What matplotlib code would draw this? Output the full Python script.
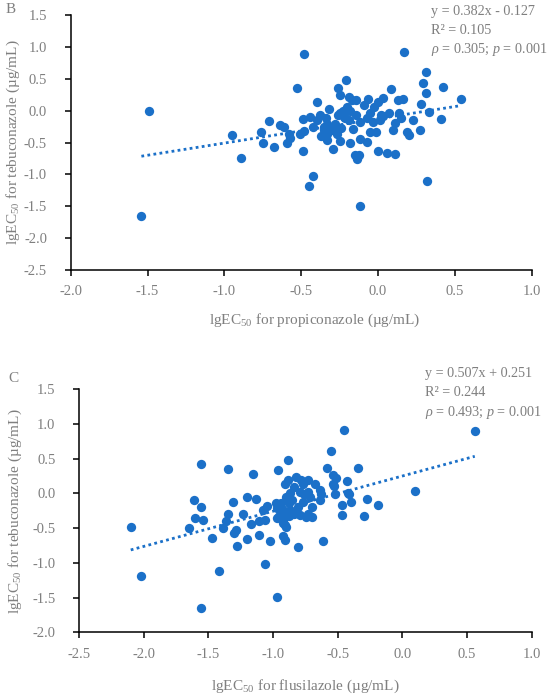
import matplotlib
matplotlib.use('Agg')
import numpy as np
import matplotlib.pyplot as plt

plt.rcParams['font.family'] = ['Liberation Serif', 'DejaVu Serif']
plt.rcParams['mathtext.fontset'] = 'custom'
plt.rcParams['mathtext.rm'] = 'Liberation Serif'
plt.rcParams['mathtext.it'] = 'Liberation Serif:italic'

# panel B: propiconazole (x) vs tebuconazole (y)
prop_x = [-1.49, -1.54, -0.95, -0.89, -0.76, -0.75, -0.71, -0.68, -0.64, -0.61,
          -0.58, -0.59, -0.57, -0.525, -0.48, -0.49, -0.49, -0.51, -0.48, -0.445,
          -0.42, -0.45, -0.40, -0.425, -0.40, -0.375, -0.37, -0.35, -0.34, -0.33,
          -0.32, -0.31, -0.33, -0.295, -0.28, -0.27, -0.26, -0.25, -0.25, -0.245,
          -0.24, -0.215, -0.21, -0.20, -0.20, -0.19, -0.19, -0.17, -0.18, -0.16,
          -0.145, -0.145, -0.15, -0.14, -0.125, -0.12, -0.115, -0.115, -0.09, -0.07,
          -0.07, -0.065, -0.055, -0.05, -0.025, -0.015, 0.00, 0.00, 0.015, 0.02,
          0.03, 0.057, 0.07, 0.085, 0.10, 0.11, 0.11, 0.13, 0.135, 0.15,
          0.16, 0.17, 0.19, 0.20, 0.225, 0.275, 0.28, 0.29, 0.31, 0.315,
          0.32, 0.33, 0.41, 0.425, 0.54,
          -0.33, -0.30, -0.26, -0.23, -0.22, -0.18, -0.03, 0.03, -0.35, -0.28]
prop_y = [0.00, -1.65, -0.38, -0.75, -0.33, -0.51, -0.16, -0.57, -0.22, -0.25,
          -0.36, -0.50, -0.43, 0.355, 0.89, -0.13, -0.63, -0.36, -0.32, -0.095,
          -1.02, -1.18, 0.14, -0.25, -0.15, -0.07, -0.40, -0.25, -0.12, -0.36,
          0.03, -0.31, -0.46, -0.60, -0.21, -0.36, 0.35, 0.245, -0.48, -0.04,
          -0.28, -0.12, 0.48, 0.06, 0.01, -0.15, 0.22, 0.17, -0.51, -0.29,
          -0.07, 0.17, -0.69, -0.76, -0.69, -0.45, -1.49, -0.18, 0.09, -0.49,
          -0.12, 0.18, -0.03, -0.33, 0.06, -0.33, -0.64, 0.14, -0.15, -0.07,
          0.20, -0.66, -0.04, 0.34, -0.30, -0.19, -0.68, 0.17, -0.04, -0.12,
          0.18, 0.925, -0.33, -0.38, -0.15, -0.30, 0.10, 0.43, 0.61, 0.28,
          -1.11, -0.02, -0.13, 0.365, 0.19,
          -0.21, -0.30, -0.07, 0.00, -0.10, 0.00, -0.18, -0.09, -0.30, -0.30]

# panel C: flusilazole (x) vs tebuconazole (y)
flus_x = [-2.10, -2.02, -1.65, -1.61, -1.60, -1.56, -1.555, -1.54, -1.56, -1.47,
          -1.42, -1.39, -1.36, -1.35, -1.35, -1.31, -1.305, -1.29, -1.28, -1.23,
          -1.20, -1.20, -1.17, -1.155, -1.13, -1.11, -1.11, -1.08, -1.065, -1.06,
          -1.045, -1.02, -0.98, -0.97, -0.96, -0.97, -0.94, -0.93, -0.92, -0.92,
          -0.91, -0.905, -0.91, -0.905, -0.90, -0.885, -0.885, -0.88, -0.87, -0.865,
          -0.85, -0.84, -0.84, -0.82, -0.81, -0.805, -0.79, -0.79, -0.78, -0.77,
          -0.77, -0.76, -0.745, -0.73, -0.73, -0.73, -0.715, -0.70, -0.695, -0.675,
          -0.64, -0.635, -0.615, -0.63, -0.58, -0.55, -0.54, -0.535, -0.525, -0.52,
          -0.51, -0.47, -0.465, -0.45, -0.43, -0.42, -0.415, -0.40, -0.34, -0.30,
          -0.27, -0.19, 0.095, 0.56,
          -0.92, -0.95, -0.88, -0.97, -0.90]
flus_y = [-0.48, -1.19, -0.50, -0.10, -0.36, 0.43, -0.19, -0.38, -1.65, -0.64,
          -1.11, -0.50, -0.39, -0.30, 0.35, -0.13, -0.57, -0.52, -0.75, -0.29,
          -0.05, -0.66, -0.44, 0.28, -0.08, -0.60, -0.40, -0.24, -0.38, -1.02,
          -0.18, -0.68, -0.14, -1.49, 0.34, -0.36, -0.14, -0.22, -0.61, -0.38,
          -0.46, -0.67, -0.29, 0.13, -0.05, 0.48, 0.20, -0.14, 0.00, -0.24,
          -0.10, 0.09, -0.29, 0.23, -0.19, -0.77, -0.31, 0.02, 0.19, -0.12,
          0.13, -0.01, -0.34, 0.20, 0.02, -0.29, -0.05, -0.34, -0.19, 0.14,
          0.05, -0.10, -0.68, -0.01, 0.36, 0.61, 0.14, 0.26, 0.10, -0.01,
          0.22, -0.16, -0.31, 0.92, 0.18, 0.01, -0.01, -0.13, 0.37, -0.33,
          -0.08, -0.16, 0.04, 0.90,
          -0.43, -0.33, -0.33, -0.21, -0.48]

fit_b = (0.382, -0.127)
fit_c = (0.507, 0.251)

blue = '#1b70c8'
grey = '#7f7f7f'
W, H = 550, 699


def setup(ax, x, y, fit, xlim, ylim, xlabel, eq, panel, pan_xy, eq_xy, xlab_y, ylab_x):
    ax.scatter(x, y, s=45, color=blue, linewidths=0, zorder=3, clip_on=False)
    xs = np.array([min(x), max(x)])
    ax.plot(xs, fit[0] * xs + fit[1], color=blue, ls=(0, (1, 1.2)), lw=2.0, zorder=2)
    ax.set_xlim(xlim)
    ax.set_ylim(ylim)
    ax.set_xticks(np.arange(xlim[0], xlim[1] + 0.01, 0.5))
    ax.set_yticks(np.arange(ylim[0], ylim[1] + 0.01, 0.5))
    ax.xaxis.set_major_formatter(plt.FuncFormatter(lambda v, p: f'{v:.1f}'))
    ax.yaxis.set_major_formatter(plt.FuncFormatter(lambda v, p: f'{v:.1f}'))
    for s in ['top', 'right']:
        ax.spines[s].set_visible(False)
    for s in ['left', 'bottom']:
        ax.spines[s].set_linewidth(1.1)
        ax.spines[s].set_color('black')
    ax.tick_params(direction='out', length=4, width=1.1, color='black',
                   labelcolor=grey, labelsize=10.5)
    ax.tick_params(axis='x', pad=7)
    ax.tick_params(axis='y', pad=13)
    ax.set_xlabel(xlabel, color=grey, fontsize=11, va='center')
    ax.xaxis.set_label_coords(0.5, xlab_y)
    ax.set_ylabel('lgEC$_{50}$ for tebuconazole (µg/mL)', color=grey, fontsize=11,
                  va='center')
    ax.yaxis.set_label_coords(ylab_x, 0.5)
    fig = ax.figure
    fig.text(pan_xy[0] / W, 1 - pan_xy[1] / H, panel, color=grey, fontsize=11,
             ha='center', va='center')
    for i, line in enumerate(eq):
        fig.text(eq_xy[0] / W, 1 - (eq_xy[1] + i * 19.3) / H, line, color=grey,
                 fontsize=10.2, ha='left', va='center')


fig = plt.figure(figsize=(5.5, 6.99), dpi=100)

ax1 = fig.add_axes([70.7 / W, 1 - 270 / H, 461 / W, 255 / H])
setup(ax1, prop_x, prop_y, fit_b, (-2.0, 1.0), (-2.5, 1.5),
      'lgEC$_{50}$ for propiconazole (µg/mL)',
      ['y = 0.382x - 0.127', 'R² = 0.105', r'$\rho$ = 0.305; $p$ = 0.001'],
      'B', (10.7, 9.3), (431, 11), -50 / 255, -57.7 / 461)
ax1.xaxis.set_label_coords(0.53, -50 / 255)

ax2 = fig.add_axes([79 / W, 1 - 632.3 / H, 452.7 / W, 243 / H])
setup(ax2, flus_x, flus_y, fit_c, (-2.5, 1.0), (-2.0, 1.5),
      'lgEC$_{50}$ for flusilazole (µg/mL)',
      ['y = 0.507x + 0.251', 'R² = 0.244', r'$\rho$ = 0.493; $p$ = 0.001'],
      'C', (13, 378.6), (425.3, 373.6), -53.7 / 243, -64 / 452.7)

fig.savefig('out.png', dpi=100)
